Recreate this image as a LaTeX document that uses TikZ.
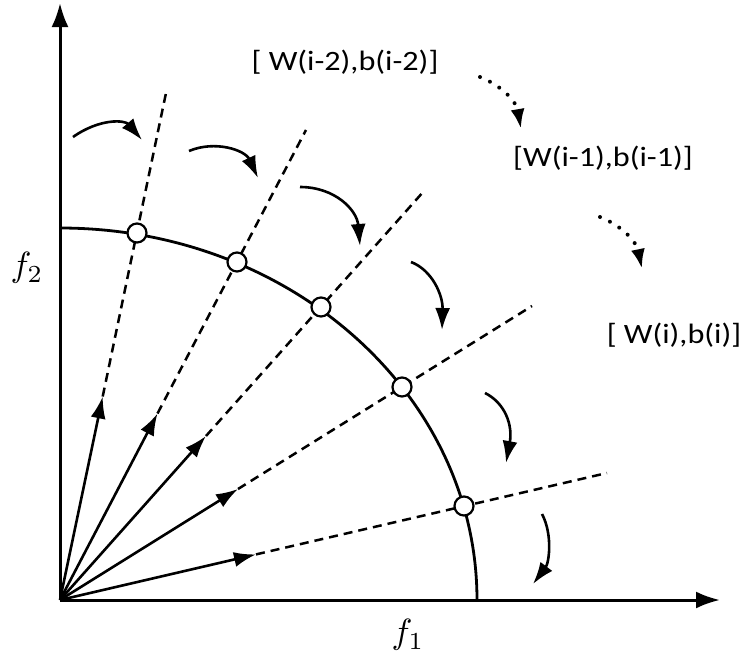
\documentclass[tikz,border=0pt]{standalone}
\usepackage{fontspec}
\setsansfont{Carlito}
\usetikzlibrary{arrows.meta}
\begin{document}
\begin{tikzpicture}[x=1pt,y=-1pt,
  axis/.style={line width=3pt,-{Latex[length=24pt,width=17pt]}},
  vec/.style={line width=2.6pt,-{Latex[length=22pt,width=15pt]}},
  dray/.style={line width=2.5pt,dash pattern=on 9pt off 6pt},
  front/.style={line width=2.8pt},
  pt/.style={circle,draw,line width=2.2pt,fill=white,minimum size=19pt,inner sep=0pt},
  turn/.style={line width=2.6pt,-{Latex[length=22pt,width=15pt]}},
  dturn/.style={line width=4pt,dash pattern=on 0pt off 11pt,line cap=round,-{Latex[length=20pt,width=14pt]}},
  lab/.style={font=\sffamily\fontsize{28}{30}\selectfont,xscale=1.15,inner sep=0pt},
  flab/.style={scale=3.5,inner sep=0pt}
]
\useasboundingbox (0,0) rectangle (747,653);
\coordinate (O) at (60,600);
\coordinate (ytop) at (60,3);
\coordinate (xend) at (720,600);
% rays
\coordinate (t1) at (102.7,396.5);
\coordinate (e1) at (166,93);
\coordinate (t2) at (157.5,413.5);
\coordinate (e2) at (306,130);
\coordinate (t3) at (206,436);
\coordinate (e3) at (424,191);
\coordinate (t4) at (238,489);
\coordinate (e4) at (532,306);
\coordinate (t5) at (256,554.4);
\coordinate (e5) at (607,473);
\foreach \i in {1,...,5}{
  \draw[dray] (t\i) -- (e\i);
  \draw[vec] (O) -- (t\i);
}
% front
\draw[front] (60,228) arc[start angle=-90,end angle=0,x radius=417,y radius=372];
% axes
\draw[axis] (O) -- (ytop);
\draw[axis] (O) -- (xend);
% points on front
\node[pt] (p1) at (137,233) {};
\node[pt] (p2) at (237,262) {};
\node[pt] (p3) at (321,307) {};
\node[pt] (p4) at (402,387) {};
\node[pt] (p5) at (464,506) {};
% rotation arrows
\coordinate (a1s) at (73,137);   \coordinate (a1e) at (142,140);
\coordinate (a2s) at (189,151);  \coordinate (a2e) at (258,178);
\coordinate (a3s) at (300,187);  \coordinate (a3e) at (360,246);
\coordinate (a4s) at (411,262);  \coordinate (a4e) at (442,330);
\coordinate (a5s) at (485,393);  \coordinate (a5e) at (506,463);
\coordinate (a6s) at (542,514);  \coordinate (a6e) at (533,584);
\draw[turn] (a1s) .. controls (100,118) and (125,120) .. (a1e);
\draw[turn] (a2s) .. controls (215,140) and (245,150) .. (a2e);
\draw[turn] (a3s) .. controls (335,187) and (357,210) .. (a3e);
\draw[turn] (a4s) .. controls (432,270) and (443,295) .. (a4e);
\draw[turn] (a5s) .. controls (505,403) and (513,425) .. (a5e);
\draw[turn] (a6s) .. controls (553,535) and (549,563) .. (a6e);
% labels
\node[lab] (w2) at (345,62) {[ W(i-2),b(i-2)]};
\node[lab] (w1) at (603,158) {[W(i-1),b(i-1)]};
\node[lab] (w0) at (674,335) {[ W(i),b(i)]};
\coordinate (d1s) at (480,77);  \coordinate (d1e) at (521,129);
\coordinate (d2s) at (600,217); \coordinate (d2e) at (642,269);
\draw[dturn] (d1s) .. controls (500,85) and (516,100) .. (d1e);
\draw[dturn] (d2s) .. controls (620,225) and (636,240) .. (d2e);
\node[flab] (f2) at (27,268) {$f_2$};
\node[flab] (f1) at (408,635) {$f_1$};
\end{tikzpicture}
\end{document}
